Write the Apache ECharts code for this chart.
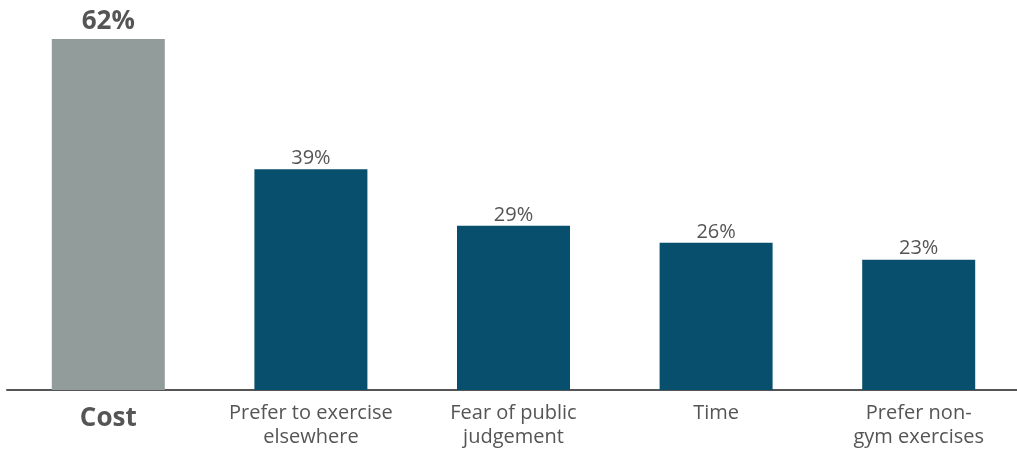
<!DOCTYPE html>
<html lang="en">
<head>
    <meta charset="UTF-8">
    <title>Reasons for not joining a gym</title>
    <script src="https://cdn.jsdelivr.net/npm/echarts@6.0.0/dist/echarts.min.js"></script>
    <style>
        body { margin: 0; background: #fff; }
    </style>
</head>
<body>
    <div id="main" style="width: 1017px;height:450px;"></div>
    <script type="text/javascript">
        // data
        const categories = ['Cost', 'Prefer to exercise\nelsewhere', 'Fear of public\njudgement', 'Time', 'Prefer non-\ngym exercises'];
        const values = [62, 39, 29, 26, 23];
        const highlightIndex = 0;

        const grey = '#919c9b';
        const blue = '#084f6e';
        const textColor = '#555555';
        const font = '"Open Sans", sans-serif';

        const myChart = echarts.init(document.getElementById('main'));

        const seriesData = values.map((v, i) => {
            const hi = i === highlightIndex;
            return {
                value: v,
                itemStyle: { color: hi ? grey : blue },
                label: {
                    fontSize: hi ? 26 : 20,
                    fontWeight: hi ? 'bold' : 'normal',
                    distance: hi ? 4 : 1
                }
            };
        });

        const option = {
            animation: false,
            grid: { left: 7, width: 1013, top: 39, bottom: 60, outerBoundsMode: 'none', containLabel: false },
            xAxis: {
                type: 'category',
                data: categories,
                axisLine: { lineStyle: { color: textColor, width: 2 } },
                axisTick: { show: false },
                axisLabel: {
                    interval: 0,
                    margin: 11,
                    formatter: (val, idx) => idx === highlightIndex ? '{hi|' + val + '}' : '{n|' + val + '}',
                    rich: {
                        hi: { fontFamily: font, fontSize: 26, fontWeight: 'bold', color: textColor, lineHeight: 30, padding: [5, 0, 0, 0] },
                        n: { fontFamily: font, fontSize: 20, color: textColor, lineHeight: 24 }
                    }
                }
            },
            yAxis: {
                type: 'value',
                min: 0,
                max: 62,
                show: false,
                splitLine: { show: false }
            },
            series: [{
                type: 'bar',
                barWidth: 113,
                data: seriesData,
                label: {
                    show: true,
                    position: 'top',
                    fontFamily: font,
                    color: textColor,
                    formatter: '{c}%'
                }
            }]
        };

        myChart.setOption(option);
    </script>
</body>
</html>
